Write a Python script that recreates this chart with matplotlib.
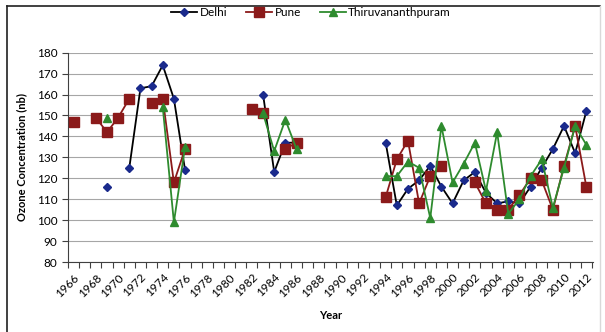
import numpy as np
import matplotlib
matplotlib.use('Agg')
import matplotlib.pyplot as plt
from matplotlib.lines import Line2D

nan = np.nan

# Values; NaN breaks the line where a year is missing
delhi_years = [1969, 1970, 1971, 1972, 1973, 1974, 1975, 1976, 1977,
               1983, 1984, 1985, 1986, 1987,
               1994, 1995, 1996, 1997, 1998, 1999, 2000, 2001, 2002, 2003,
               2004, 2005, 2006, 2007, 2008, 2009, 2010, 2011, 2012]
delhi_vals = [116, nan, 125, 163, 164, 174, 158, 124, nan,
              160, 123, 137, 137, nan,
              137, 107, 115, 119, 126, 116, 108, 119, 123, 113,
              108, 109, 108, 116, 125, 134, 145, 132, 152]

pune_years = [1966, 1967, 1968, 1969, 1970, 1971, 1972, 1973, 1974, 1975, 1976, 1977,
              1982, 1983, 1984, 1985, 1986, 1987,
              1994, 1995, 1996, 1997, 1998, 1999, 2000, 2001, 2002, 2003,
              2004, 2005, 2006, 2007, 2008, 2009, 2010, 2011, 2012]
pune_vals = [147, nan, 149, 142, 149, 158, nan, 156, 158, 118, 134, nan,
             153, 151, nan, 134, 137, nan,
             111, 129, 138, 108, 121, 126, nan, nan, 118, 108,
             105, 105, 112, 120, 119, 105, 126, 145, 116]

thiru_years = [1969, 1970, 1974, 1975, 1976, 1977,
               1983, 1984, 1985, 1986, 1987,
               1994, 1995, 1996, 1997, 1998, 1999, 2000, 2001, 2002, 2003,
               2004, 2005, 2006, 2007, 2008, 2009, 2010, 2011, 2012]
thiru_vals = [149, nan, 154, 99, 135, nan,
              151, 133, 148, 134, nan,
              121, 121, 128, 125, 101, 145, 118, 127, 137, 114,
              142, 103, 110, 121, 129, 106, 125, 145, 136]

year_labels = list(range(1966, 2013, 2))

plt.rcParams['font.family'] = ['Lato', 'DejaVu Sans']

fig = plt.figure(figsize=(6.05, 3.32), dpi=100)
ax = fig.add_axes([68 / 605, 1 - 262 / 332, (593 - 68) / 605, (262 - 52.7) / 332])

ax.plot(delhi_years, delhi_vals, color='black', lw=1.3, marker='D', ms=4.5,
        mfc='#1A2A8C', mec='#1A2A8C', label='Delhi', zorder=3)
ax.plot(pune_years, pune_vals, color='#8B1A1A', lw=1.3, marker='s', ms=6.5,
        mfc='#8B1A1A', mec='#8B1A1A', label='Pune', zorder=4)
ax.plot(thiru_years, thiru_vals, color='#2E8B2E', lw=1.3, marker='^', ms=6,
        mfc='#2E8B2E', mec='#2E8B2E', label='Thiruvananthpuram', zorder=5)

ax.set_xlim(1965.5, 2012.6)
ax.set_ylim(80, 180)
ax.set_yticks(range(80, 181, 10))
ax.set_xticks(year_labels)
ax.set_xticklabels([str(y) for y in year_labels], rotation=45, ha='right',
                   va='top', rotation_mode='anchor', fontsize=8.5)
ax.set_xticks(np.arange(1965.5, 2012.6, 1), minor=True)
ax.tick_params(axis='x', which='major', length=0, pad=7)
ax.tick_params(axis='x', which='minor', length=4, width=0.8, color='#404040')
ax.tick_params(axis='y', length=4, width=0.8, color='#404040', labelsize=8.5)

ax.grid(axis='y', color='#A6A6A6', lw=0.8)
ax.set_axisbelow(True)
for side in ['top', 'right']:
    ax.spines[side].set_visible(False)
ax.spines['left'].set_color('#404040')
ax.spines['bottom'].set_color('#404040')

ax.set_ylabel('Ozone Concentration (nb)', fontsize=8, fontweight='bold', labelpad=7)
ax.set_xlabel('Year', fontsize=8, fontweight='bold', labelpad=8)

fig.legend(loc='center', bbox_to_anchor=(311 / 605, 1 - 13 / 332), ncol=3,
           frameon=False, fontsize=8.5, handlelength=2.2, columnspacing=1.6,
           handletextpad=0.2)

# chart frame
fig.add_artist(Line2D([7 / 605, 7 / 605], [0, 1 - 6 / 332], color='#202020', lw=1.2))
fig.add_artist(Line2D([7 / 605, 600 / 605], [1 - 6 / 332, 1 - 6 / 332], color='#202020', lw=1.2))
fig.add_artist(Line2D([600 / 605, 600 / 605], [0, 1 - 6 / 332], color='#D9D9D9', lw=1.0))

fig.savefig('out.png', dpi=100)
